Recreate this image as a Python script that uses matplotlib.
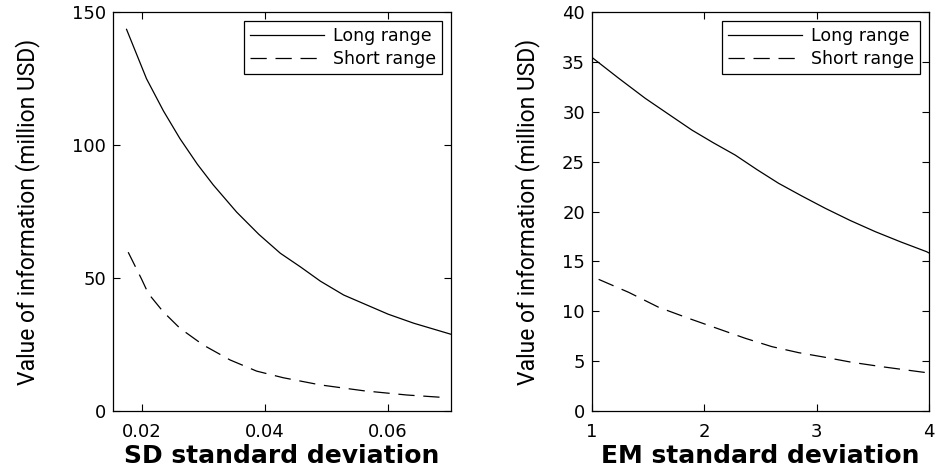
import matplotlib
matplotlib.use('Agg')
import matplotlib.pyplot as plt

# Left panel: SD standard deviation
sd_long_x = [0.01750, 0.02075, 0.02350, 0.02618, 0.02900, 0.03159, 0.03538,
             0.03900, 0.04249, 0.04574, 0.04900, 0.05278, 0.05659, 0.06000,
             0.06416, 0.07013]
sd_long_y = [143.5, 124.9, 112.8, 102.4, 92.8, 85.0, 74.8,
             66.4, 59.3, 54.2, 48.8, 43.6, 39.8, 36.4,
             33.0, 28.9]
sd_short_x = [0.01777, 0.01994, 0.02103, 0.02346, 0.02618, 0.02997, 0.03431,
              0.03863, 0.04297, 0.04900, 0.05603, 0.06309, 0.06959]
sd_short_y = [59.7, 49.6, 44.2, 37.3, 31.1, 24.8, 19.2,
              15.0, 12.5, 9.8, 7.6, 6.0, 5.0]

# Right panel: EM standard deviation
em_long_x = [1.0, 1.24, 1.475, 1.69, 1.89, 2.08, 2.276, 2.47, 2.662, 2.87,
             3.078, 3.30, 3.523, 3.75, 3.98, 4.0]
em_long_y = [35.46, 33.35, 31.35, 29.70, 28.17, 26.90, 25.66, 24.20, 22.83,
             21.55, 20.32, 19.10, 17.98, 16.95, 15.97, 15.85]
em_short_x = [1.06, 1.327, 1.594, 1.861, 2.098, 2.365, 2.603, 2.84,
              3.078, 3.315, 3.582, 3.98]
em_short_y = [13.2, 11.9, 10.4, 9.29, 8.35, 7.29, 6.45, 5.85,
              5.38, 4.88, 4.44, 3.84]

YLABEL = 'Value of information (million USD)'
DASH = (13, 7)

fig = plt.figure(figsize=(9.44, 4.71), dpi=100)
ax1 = fig.add_axes([0.1197, 0.1274, 0.358, 0.847])
ax2 = fig.add_axes([0.627, 0.1274, 0.357, 0.847])


def style_axes(ax, ypad):
    ax.tick_params(direction='in', top=True, right=True, labelsize=13,
                   length=5, width=0.8)
    ax.tick_params(axis='x', pad=9)
    ax.tick_params(axis='y', pad=5)
    for s in ax.spines.values():
        s.set_linewidth(0.9)
    ax.set_ylabel(YLABEL, family=['Liberation Sans Narrow', 'Roboto'],
                  fontsize=16.5, labelpad=ypad)
    leg = ax.legend(loc='upper right', fontsize=12.5, handlelength=4.3,
                    handletextpad=0.5, fancybox=False, edgecolor='black',
                    framealpha=1, borderaxespad=0.5, labelspacing=0.3,
                    borderpad=0.35)
    leg.get_frame().set_linewidth(0.9)


ax1.plot(sd_long_x, sd_long_y, color='black', lw=0.9, label='Long range')
ax1.plot(sd_short_x, sd_short_y, color='black', lw=0.9, dashes=DASH,
         label='Short range')
ax1.set_xlim(0.0153, 0.0702)
ax1.set_ylim(0, 150)
ax1.set_xticks([0.02, 0.04, 0.06])
ax1.set_xticklabels(['0.02', '0.04', '0.06'])
ax1.set_yticks([0, 50, 100, 150])
ax1.set_xlabel('SD standard deviation', fontsize=18, fontweight='bold',
               labelpad=2)
style_axes(ax1, 23)

ax2.plot(em_long_x, em_long_y, color='black', lw=0.9, label='Long range')
ax2.plot(em_short_x, em_short_y, color='black', lw=0.9, dashes=DASH,
         label='Short range')
ax2.set_xlim(1, 4)
ax2.set_ylim(0, 40)
ax2.set_xticks([1, 2, 3, 4])
ax2.set_yticks(range(0, 41, 5))
ax2.set_xlabel('EM standard deviation', fontsize=18, fontweight='bold',
               labelpad=2)
style_axes(ax2, 16)

fig.savefig('out.png', dpi=100)
